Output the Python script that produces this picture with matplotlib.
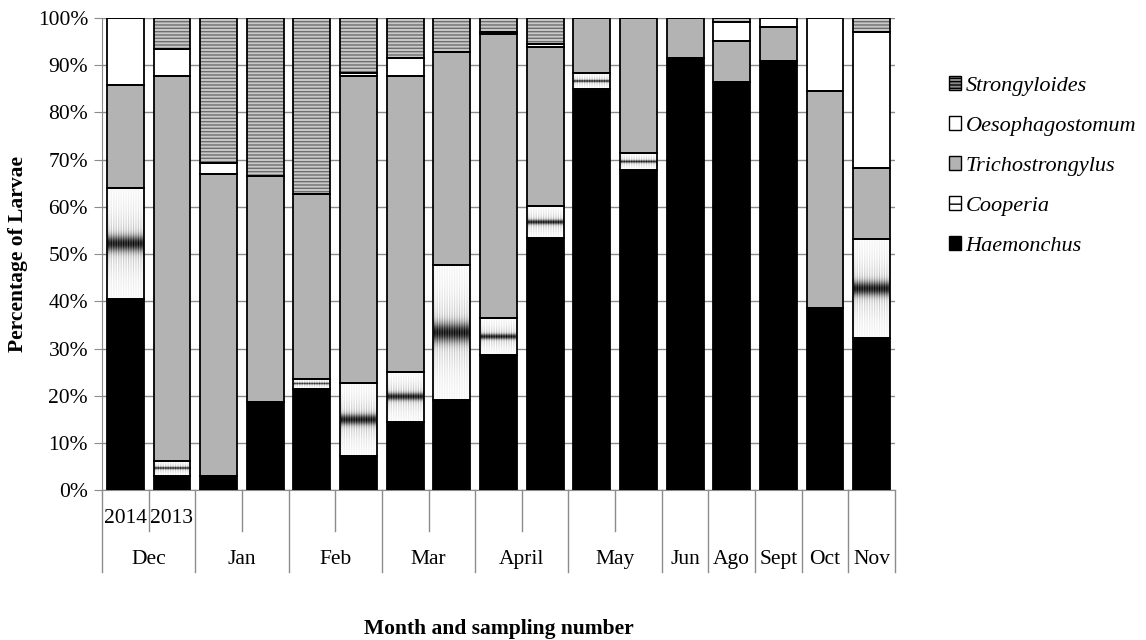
import numpy as np
import matplotlib.pyplot as plt
from matplotlib.patches import Patch

plt.rcParams['font.family'] = ['Liberation Serif', 'DejaVu Serif']

# month groups and number of samplings per month
months = ["Dec", "Jan", "Feb", "Mar", "April", "May", "Jun", "Ago", "Sept", "Oct", "Nov"]
samples_per_month = [2, 2, 2, 2, 2, 2, 1, 1, 1, 1, 1]
sub_labels = ["2014", "2013"] + [""] * 15

# percentage of larvae per genus (bottom to top)
haemonchus = [40.5, 3.0, 3.0, 18.6, 21.4, 7.3, 14.4, 19.2, 28.6, 53.5, 85.0, 67.9, 91.6, 86.5, 90.9, 38.5, 32.3]
cooperia = [23.5, 3.2, 0, 0, 2.2, 15.4, 10.7, 28.5, 7.8, 6.7, 3.3, 3.4, 0, 0, 0, 0, 20.8]
trichostrongylus = [21.7, 81.6, 64.0, 47.9, 39.1, 65.1, 62.5, 45.0, 60.1, 33.7, 11.7, 28.7, 8.4, 8.7, 7.1, 46.0, 15.2]
oesophagostomum = [14.3, 5.6, 2.3, 0, 0, 0.6, 3.9, 0, 0.5, 0.6, 0, 0, 0, 3.9, 2.0, 15.5, 28.8]
strongyloides = [0, 6.6, 30.7, 33.5, 37.3, 11.6, 8.5, 7.3, 3.0, 5.5, 0, 0, 0, 0.9, 0, 0, 2.9]

series = [
    ("Haemonchus", haemonchus),
    ("Cooperia", cooperia),
    ("Trichostrongylus", trichostrongylus),
    ("Oesophagostomum", oesophagostomum),
    ("Strongyloides", strongyloides),
]

fig = plt.figure(figsize=(11.46, 6.4), dpi=100)
ax = fig.add_axes([0.089, 0.234, 0.692, 0.738])

x = np.arange(len(haemonchus))
width = 0.79
bottom = np.zeros(len(x))

# gradient texture used for Cooperia
t = np.linspace(0, 1, 80)[:, None]
cols = np.arange(30)[None, :]
dark = 0.72 * np.exp(-((t - 0.5) / 0.07) ** 2)
stripes = (cols % 2) * (0.04 + 0.22 * np.exp(-((t - 0.5) / 0.25) ** 2))
texture = np.clip(1 - dark - stripes, 0, 1)

for name, vals in series:
    vals = np.array(vals, dtype=float)
    if name == "Haemonchus":
        ax.bar(x, vals, width, bottom=bottom, color="black", edgecolor="none", zorder=2)
    elif name == "Cooperia":
        bars = ax.bar(x, vals, width, bottom=bottom, color="white", edgecolor="none", zorder=2)
        for b, v in zip(bars, vals):
            if v <= 0:
                continue
            x0, y0 = b.get_x(), b.get_y()
            im = ax.imshow(texture, cmap="gray", vmin=0, vmax=1, aspect="auto",
                           extent=(x0, x0 + b.get_width(), y0, y0 + b.get_height()),
                           origin="lower", zorder=3, interpolation="bilinear")
            im.set_clip_path(b)
    elif name == "Trichostrongylus":
        ax.bar(x, vals, width, bottom=bottom, color="#b3b3b3", edgecolor="none", zorder=2)
    elif name == "Oesophagostomum":
        ax.bar(x, vals, width, bottom=bottom, color="white", edgecolor="none", zorder=2)
    else:
        ax.bar(x, vals, width, bottom=bottom, color="#c8c8c8", edgecolor="#6e6e6e",
               linewidth=0, hatch="-----", zorder=2)
    # outline
    ax.bar(x, vals, width, bottom=bottom, fill=False, edgecolor="black", linewidth=1.3, zorder=4)
    bottom += vals

ax.set_xlim(-0.5, len(x) - 0.5)
ax.set_ylim(0, 100)
ax.set_yticks(np.arange(0, 101, 10))
ax.set_yticklabels([f"{v}%" for v in range(0, 101, 10)], fontsize=15.5)
ax.yaxis.grid(True, color="#8c8c8c", linewidth=1.0, zorder=0)
ax.set_axisbelow(True)
ax.set_xticks([])
for s in ["top", "right"]:
    ax.spines[s].set_visible(False)
for s in ["left", "bottom"]:
    ax.spines[s].set_color("#8c8c8c")
ax.tick_params(axis="y", length=6, color="#8c8c8c", pad=4)

# two-level category axis
trans = ax.get_xaxis_transform()
edges = np.concatenate([[0], np.cumsum(samples_per_month)]) - 0.5
for e in edges:
    ax.plot([e, e], [0, -0.174], transform=trans, color="#8c8c8c", lw=1.0, clip_on=False)
for i, m in enumerate(months):
    center = (edges[i] + edges[i + 1]) / 2
    ax.text(center, -0.146, m, transform=trans, ha="center", va="center", fontsize=15.5)
    if samples_per_month[i] == 2:
        ax.plot([center, center], [0, -0.086], transform=trans, color="#8c8c8c", lw=1.0, clip_on=False)
for xi, lab in zip(x, sub_labels):
    if lab:
        ax.text(xi, -0.059, lab, transform=trans, ha="center", va="center", fontsize=15.5)

fig.text(0.016, 0.603, "Percentage of Larvae", rotation=90, ha="center", va="center",
         fontsize=15.5, fontweight="bold")
fig.text(0.435, 0.017, "Month and sampling number", ha="center", va="center",
         fontsize=15.5, fontweight="bold")

handles = [
    Patch(facecolor="#8a8a8a", edgecolor="black", hatch="-----", label="Strongyloides"),
    Patch(facecolor="white", edgecolor="black", label="Oesophagostomum"),
    Patch(facecolor="#b3b3b3", edgecolor="black", label="Trichostrongylus"),
    Patch(facecolor="white", edgecolor="black", hatch="--", label="Cooperia"),
    Patch(facecolor="black", edgecolor="black", label="Haemonchus"),
]
fig.legend(handles=handles, loc="upper left", bbox_to_anchor=(0.826, 0.885), frameon=False,
           prop={"family": "Liberation Serif", "style": "italic", "size": 16},
           handlelength=0.57, handleheight=0.57,
           handletextpad=0.18, labelspacing=0.92, borderaxespad=0, borderpad=0.1)

fig.savefig("out.png", dpi=100)
